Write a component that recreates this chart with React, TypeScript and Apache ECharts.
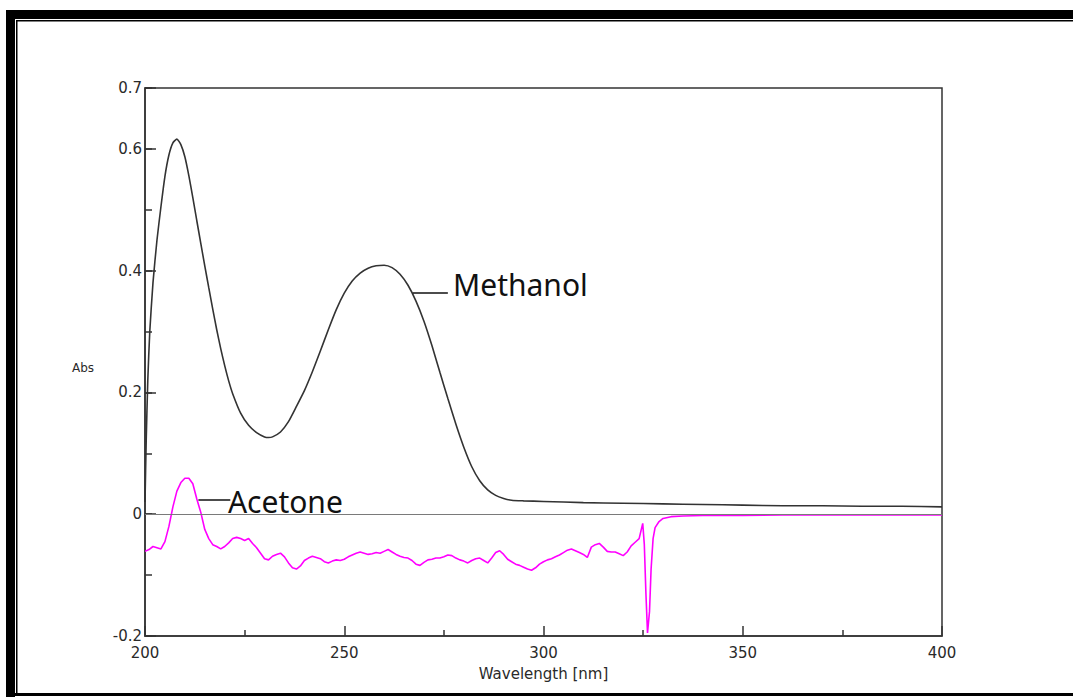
import React, { useEffect, useRef } from "react";
import * as echarts from "echarts";

// Wavelength grid and absorbance values
const methanolWl = [200, 200.3, 200.7, 201.2, 202, 203, 204, 205, 206, 207, 208, 209, 210, 211, 212, 213, 214, 215, 216, 217, 218, 219, 220, 221, 222, 224, 226, 228, 230, 231, 232, 234, 236, 238, 240, 242, 244, 246, 248, 250, 252, 254, 256, 258, 260, 262, 264, 266, 268, 270, 272, 274, 276, 278, 280, 282, 284, 286, 288, 290, 292, 295, 300, 310, 320, 330, 340, 350, 360, 370, 380, 390, 400];
const methanolAbs = [0.02, 0.12, 0.22, 0.3, 0.38, 0.45, 0.505, 0.555, 0.59, 0.61, 0.616, 0.607, 0.587, 0.556, 0.52, 0.482, 0.445, 0.408, 0.372, 0.337, 0.303, 0.272, 0.244, 0.219, 0.198, 0.166, 0.146, 0.134, 0.127, 0.126, 0.127, 0.135, 0.152, 0.177, 0.203, 0.234, 0.268, 0.303, 0.336, 0.363, 0.383, 0.396, 0.404, 0.408, 0.409, 0.405, 0.394, 0.376, 0.35, 0.317, 0.277, 0.233, 0.19, 0.148, 0.11, 0.078, 0.055, 0.04, 0.031, 0.026, 0.023, 0.022, 0.021, 0.019, 0.018, 0.017, 0.016, 0.015, 0.014, 0.014, 0.013, 0.013, 0.012];

const acetoneWl = [200, 201, 202, 203, 204, 205, 206, 207, 208, 209, 210, 211, 212, 213, 214, 215, 216, 217, 218, 219, 220, 221, 222, 223, 224, 225, 226, 227, 228, 229, 230, 231, 232, 233, 234, 235, 236, 237, 238, 239, 240, 241, 242, 243, 244, 245, 246, 247, 248, 249, 250, 251, 252, 253, 254, 255, 256, 257, 258, 259, 260, 261, 262, 263, 264, 265, 266, 267, 268, 269, 270, 271, 272, 273, 274, 275, 276, 277, 278, 279, 280, 281, 282, 283, 284, 285, 286, 287, 288, 289, 290, 291, 292, 293, 294, 295, 296, 297, 298, 299, 300, 301, 302, 303, 304, 305, 306, 307, 308, 309, 310, 311, 312, 313, 314, 315, 316, 317, 318, 319, 320, 321, 322, 323, 324, 324.9, 325.3, 325.7, 326.1, 326.6, 327, 327.5, 328, 329, 330, 332, 335, 340, 350, 360, 380, 400];
const acetoneAbs = [-0.061, -0.058, -0.053, -0.055, -0.057, -0.045, -0.02, 0.012, 0.038, 0.052, 0.059, 0.059, 0.05, 0.025, 0.003, -0.025, -0.04, -0.05, -0.053, -0.057, -0.053, -0.047, -0.04, -0.038, -0.04, -0.043, -0.04, -0.048, -0.055, -0.064, -0.073, -0.075, -0.069, -0.066, -0.064, -0.07, -0.08, -0.088, -0.09, -0.085, -0.076, -0.072, -0.069, -0.071, -0.073, -0.078, -0.08, -0.077, -0.075, -0.076, -0.074, -0.07, -0.067, -0.064, -0.062, -0.064, -0.066, -0.065, -0.063, -0.064, -0.061, -0.058, -0.062, -0.066, -0.069, -0.071, -0.072, -0.076, -0.082, -0.084, -0.079, -0.075, -0.074, -0.072, -0.072, -0.07, -0.067, -0.068, -0.072, -0.075, -0.077, -0.08, -0.076, -0.073, -0.072, -0.076, -0.08, -0.072, -0.063, -0.06, -0.066, -0.074, -0.078, -0.082, -0.084, -0.087, -0.09, -0.092, -0.088, -0.082, -0.078, -0.075, -0.073, -0.07, -0.067, -0.063, -0.059, -0.057, -0.06, -0.063, -0.066, -0.071, -0.054, -0.05, -0.048, -0.054, -0.061, -0.062, -0.062, -0.065, -0.068, -0.062, -0.052, -0.046, -0.04, -0.015, -0.05, -0.13, -0.195, -0.16, -0.09, -0.04, -0.022, -0.012, -0.007, -0.004, -0.003, -0.002, -0.002, -0.001, -0.001, -0.001];

const yTickLabels = ["-0.2", "0", "0.2", "0.4", "0.6", "0.7"];
const xTickLabels = ["200", "250", "300", "350", "400"];

// Annotation anchors (data coordinates)
const methanolLeader = [[267.2, 0.363], [276.0, 0.363]];
const methanolTextAt = [277.3, 0.377];
const acetoneLeader = [[213.4, 0.023], [221.4, 0.023]];
const acetoneTextAt = [220.8, 0.0215];

const LABEL_FONT = "'DejaVu Sans', Verdana, sans-serif";
const NOTE_FONT = "'Noto Sans', sans-serif";
const TEXT_COLOR = "#2a2a2a";

export default function App() {
  const ref = useRef<HTMLDivElement>(null);

  useEffect(() => {
    if (!ref.current) return;
    const chart = echarts.init(ref.current, null, { renderer: "svg" });
    const zip = (xs: number[], ys: number[]) => xs.map((x, i) => [x, ys[i]]);

    const noteLabel = (text: string) => ({
      show: true,
      position: "right",
      distance: 0,
      formatter: text,
      fontFamily: NOTE_FONT,
      fontSize: 30,
      color: "#111",
    });

    chart.setOption({
      animation: false,
      backgroundColor: "#ffffff",
      grid: {
        left: 145,
        top: 88,
        right: 131,
        bottom: 61,
        show: true,
        borderColor: "#333",
        borderWidth: 1.5,
        backgroundColor: "transparent",
      },
      xAxis: {
        type: "value",
        min: 200,
        max: 400,
        interval: 50,
        name: "Wavelength [nm]",
        nameLocation: "middle",
        nameGap: 30,
        nameTextStyle: { fontFamily: LABEL_FONT, fontSize: 15, color: TEXT_COLOR },
        axisLine: { show: true, onZero: false, lineStyle: { color: "#333", width: 1.5 } },
        axisTick: { show: true, inside: true, length: 10, lineStyle: { color: "#333", width: 1.5 } },
        minorTick: { show: true, splitNumber: 2, length: 6, lineStyle: { color: "#333", width: 1.5 } },
        splitLine: { show: false },
        minorSplitLine: { show: false },
        axisLabel: {
          margin: 9,
          fontFamily: LABEL_FONT,
          fontSize: 15,
          color: TEXT_COLOR,
          formatter: (v: number) => (xTickLabels.includes(String(v)) ? String(v) : ""),
        },
      },
      yAxis: [
        {
          type: "value",
          position: "left",
          min: -0.2,
          max: 0.7,
          interval: 0.1,
          axisLine: { show: true, onZero: false, lineStyle: { color: "#333", width: 1.5 } },
          axisTick: { show: true, inside: true, length: 7, lineStyle: { color: "#333", width: 1.5 } },
          axisLabel: { show: false },
          splitLine: { show: false },
          name: "Abs",
          nameLocation: "middle",
          nameRotate: 0,
          nameGap: 51,
          nameTextStyle: { fontFamily: LABEL_FONT, fontSize: 12, color: TEXT_COLOR, verticalAlign: "top" },
        },
        {
          type: "value",
          position: "left",
          min: -0.2,
          max: 0.7,
          interval: 0.2,
          axisLine: { show: false, onZero: false },
          axisTick: { show: true, inside: true, length: 11, lineStyle: { color: "#333", width: 1.5 } },
          splitLine: { show: false },
          axisLabel: {
            margin: 3,
            fontFamily: LABEL_FONT,
            fontSize: 15,
            color: TEXT_COLOR,
            formatter: (v: number) => {
              const s = String(Math.round(v * 10) / 10);
              return yTickLabels.includes(s) ? s : "";
            },
          },
        },
      ],
      series: [
        {
          name: "Acetone",
          type: "line",
          yAxisIndex: 0,
          data: zip(acetoneWl, acetoneAbs),
          showSymbol: false,
          smooth: false,
          lineStyle: { color: "#ff00ff", width: 1.6 },
          z: 3,
          markLine: {
            silent: true,
            symbol: ["none", "none"],
            animation: false,
            data: [
              {
                yAxis: 0,
                lineStyle: { color: "#7a7a7a", width: 1, type: "solid" },
                label: { show: false },
              },
              [
                {
                  coord: acetoneLeader[0],
                  lineStyle: { color: "#111", width: 1.5, type: "solid" },
                  label: { show: false },
                },
                { coord: acetoneLeader[1] },
              ],
            ],
          },
          markPoint: {
            silent: true,
            animation: false,
            symbol: "circle",
            symbolSize: 0,
            data: [{ coord: acetoneTextAt, label: noteLabel("Acetone") }],
          },
        },
        {
          name: "Methanol",
          type: "line",
          yAxisIndex: 0,
          data: zip(methanolWl, methanolAbs),
          showSymbol: false,
          smooth: 0.2,
          lineStyle: { color: "#333", width: 1.6 },
          z: 4,
          markLine: {
            silent: true,
            symbol: ["none", "none"],
            animation: false,
            data: [
              [
                {
                  coord: methanolLeader[0],
                  lineStyle: { color: "#111", width: 1.5, type: "solid" },
                  label: { show: false },
                },
                { coord: methanolLeader[1] },
              ],
            ],
          },
          markPoint: {
            silent: true,
            animation: false,
            symbol: "circle",
            symbolSize: 0,
            data: [{ coord: methanolTextAt, label: noteLabel("Methanol") }],
          },
        },
      ],
      graphic: [
        { type: "rect", shape: { x: 6, y: 10, width: 1067, height: 9 }, style: { fill: "#000" }, silent: true },
        { type: "rect", shape: { x: 16, y: 20, width: 1057, height: 1.5 }, style: { fill: "#000" }, silent: true },
        { type: "rect", shape: { x: 6, y: 10, width: 9, height: 687 }, style: { fill: "#000" }, silent: true },
        { type: "rect", shape: { x: 16, y: 20, width: 1.5, height: 675 }, style: { fill: "#000" }, silent: true },
        { type: "rect", shape: { x: 6, y: 693, width: 1067, height: 3 }, style: { fill: "#000" }, silent: true },
      ],
    });

    return () => chart.dispose();
  }, []);

  return (
    <div
      ref={ref}
      style={{ position: "absolute", left: 0, top: 0, width: 1073, height: 697, background: "#fff" }}
    />
  );
}
